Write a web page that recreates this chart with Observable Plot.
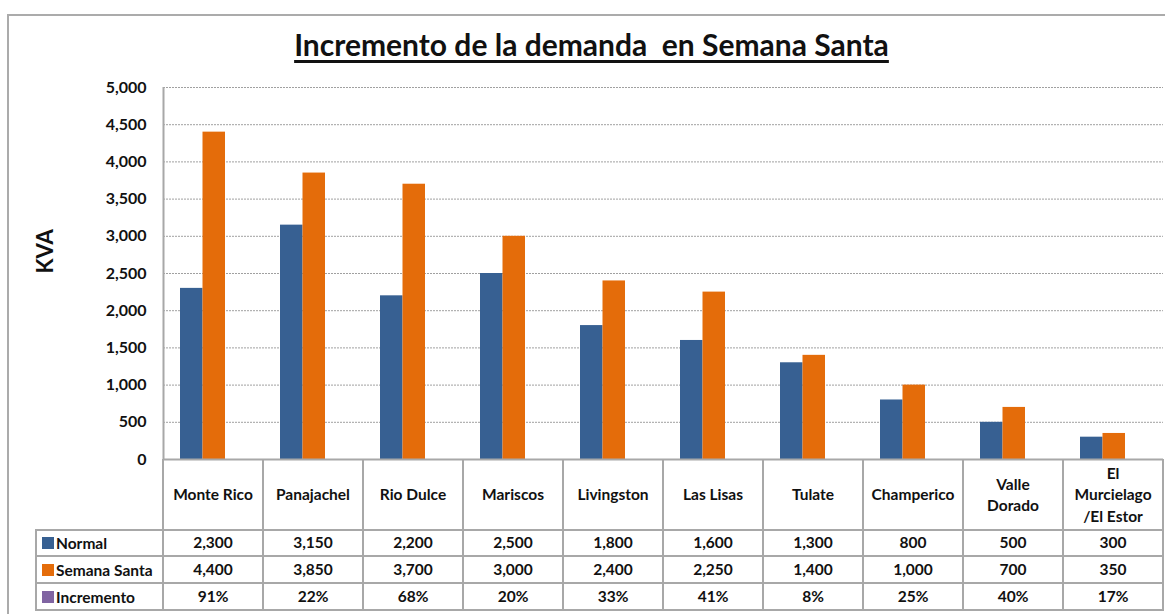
<!DOCTYPE html>
<html><head><meta charset="utf-8">
<script src="https://cdn.jsdelivr.net/npm/d3@7"></script>
<script src="https://cdn.jsdelivr.net/npm/@observablehq/plot@0.6"></script>
<style>
body{margin:0;background:#fff;font-family:Lato,"Open Sans",sans-serif;color:#111;}
#wrap{position:relative;width:1165px;height:614px;overflow:hidden;background:#fff;}
#frame{position:absolute;left:7px;top:14px;width:1300px;height:800px;border:2px solid #ababab;box-sizing:border-box;}
#title{position:absolute;top:26px;left:0;width:1183px;text-align:center;font-weight:bold;font-size:30px;line-height:36px;text-decoration:underline;text-decoration-thickness:3px;text-underline-offset:4px;white-space:pre;}
#plot{position:absolute;left:0;top:0;}
.ln{position:absolute;background:#a8a8a8;}
.cell{position:absolute;display:flex;align-items:center;justify-content:center;text-align:center;font-weight:bold;font-size:15.5px;line-height:21.5px;white-space:pre;}
.lab{position:absolute;display:flex;align-items:center;font-weight:bold;font-size:15.5px;}
.sw{display:inline-block;width:12px;height:12px;margin-right:2px;}
</style></head>
<body>
<div id="wrap">
  <div id="frame"></div>
  <div id="title">Incremento de la demanda  en Semana Santa</div>
  <div id="plot"></div>
</div>
<script>
const categories = ["Monte Rico","Panajachel","Rio Dulce","Mariscos","Livingston","Las Lisas","Tulate","Champerico","Valle Dorado","El Murcielago/El Estor"];
const categoryLabels = ["Monte Rico","Panajachel","Rio Dulce","Mariscos","Livingston","Las Lisas","Tulate","Champerico","Valle\nDorado","El\nMurcielago\n/El Estor"];
const normal = [2300,3150,2200,2500,1800,1600,1300,800,500,300];
const semanaSanta = [4400,3850,3700,3000,2400,2250,1400,1000,700,350];
const incremento = ["91%","22%","68%","20%","33%","41%","8%","25%","40%","17%"];
const yTicks = [0,500,1000,1500,2000,2500,3000,3500,4000,4500,5000];
const seriesNames = ["Normal","Semana Santa","Incremento"];
const seriesColors = ["#376092","#E46C0A","#8064A2"];

const rows = categories.map((c,i)=>({cat:c, normal:normal[i], santa:semanaSanta[i]}));
const fmt = d3.format(",");

const plot = Plot.plot({
  width:1165, height:479,
  marginTop:87, marginBottom:20, marginLeft:163, marginRight:2,
  style:{fontFamily:"Lato, 'Open Sans', sans-serif", background:"transparent"},
  x:{domain:categories, padding:0, axis:null},
  y:{domain:[0,5000], axis:null},
  marks:[
    Plot.gridY(yTicks.filter(d=>d>0), {stroke:"#a0a0a0", strokeOpacity:1, strokeDasharray:"2,1"}),
    Plot.barY(rows, {x:"cat", y:"normal", fill:seriesColors[0], insetLeft:17, insetRight:60.5}),
    Plot.barY(rows, {x:"cat", y:"santa", fill:seriesColors[1], insetLeft:39.5, insetRight:38}),
    Plot.ruleY([0], {stroke:"#a8a8a8", strokeWidth:2}),
    Plot.ruleX([categories[0]], {dx:-50, stroke:"#a8a8a8", strokeWidth:2}),
    Plot.axisY({ticks:yTicks, tickFormat:fmt, tickSize:0, tickPadding:17, fontSize:16, fontWeight:"bold", fill:"#111", label:null}),
    Plot.text(["KVA"], {frameAnchor:"left", dx:-118, rotate:-90, fontSize:22, fontWeight:"bold", fill:"#111"})
  ]
});
document.getElementById("plot").appendChild(plot);

const wrap = document.getElementById("wrap");
const xs = plot.scale("x");
const bw = xs.bandwidth;
const xEnd = xs.apply(categories[categories.length-1]) + bw;
const leftCol = 36;
const rowY = [459, 530, 556, 583, 610];

function line(l,t,w,h){const d=document.createElement("div");d.className="ln";Object.assign(d.style,{left:l+"px",top:t+"px",width:w+"px",height:h+"px"});wrap.appendChild(d);}
categories.forEach((c,i)=>{ line(xs.apply(c)-1, rowY[0], 2, rowY[4]-rowY[0]+1); });
line(xEnd-1, rowY[0], 2, rowY[4]-rowY[0]+1);
line(leftCol-1, rowY[1]-1, 2, rowY[4]-rowY[1]+2);
for (let r=1;r<rowY.length;r++) line(leftCol-1, rowY[r]-1, xEnd-leftCol+1, 2);

function cell(l,t,w,h,txt){const d=document.createElement("div");d.className="cell";Object.assign(d.style,{left:l+"px",top:t+"px",width:w+"px",height:h+"px"});d.textContent=txt;wrap.appendChild(d);}
categories.forEach((c,i)=>{
  const l = xs.apply(c);
  cell(l, rowY[0]+1, bw, rowY[1]-rowY[0]-1, categoryLabels[i]);
  cell(l, rowY[1], bw, rowY[2]-rowY[1], fmt(normal[i]));
  cell(l, rowY[2], bw, rowY[3]-rowY[2], fmt(semanaSanta[i]));
  cell(l, rowY[3], bw, rowY[4]-rowY[3], incremento[i]);
});
seriesNames.forEach((s,k)=>{
  const d=document.createElement("div");d.className="lab";
  Object.assign(d.style,{left:(leftCol+6)+"px",top:rowY[k+1]+"px",height:(rowY[k+2]-rowY[k+1])+"px"});
  const sw=document.createElement("span");sw.className="sw";sw.style.background=seriesColors[k];
  d.appendChild(sw);d.appendChild(document.createTextNode(s));
  wrap.appendChild(d);
});
</script>
</body></html>
